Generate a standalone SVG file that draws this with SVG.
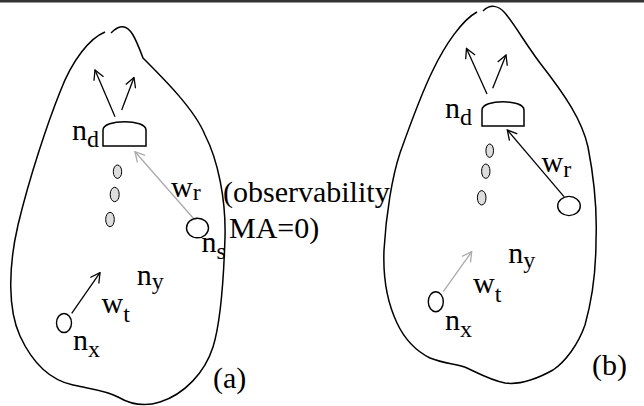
<svg xmlns="http://www.w3.org/2000/svg" width="644" height="406" viewBox="0 0 644 406">
<defs>
<style>
.ol{fill:none;stroke:#000;stroke-width:1.5}
.nd{fill:#fff;stroke:#000;stroke-width:1.5}
.el{fill:#fff;stroke:#000;stroke-width:1.4}
.dot{fill:#ddd;stroke:#000;stroke-width:1}
.ab{fill:none;stroke:#000;stroke-width:1.3}
.ag{fill:none;stroke:#aaa;stroke-width:1.3}
</style>
<marker id="mb" markerUnits="userSpaceOnUse" markerWidth="11" markerHeight="12" viewBox="0 0 11 12" refX="10" refY="6" orient="auto">
<path d="M0.5,0.8 L10,6 L0.5,11.2" fill="none" stroke="#000" stroke-width="1.3"/>
</marker>
<marker id="mg" markerUnits="userSpaceOnUse" markerWidth="11" markerHeight="12" viewBox="0 0 11 12" refX="10" refY="6" orient="auto">
<path d="M0.5,0.8 L10,6 L0.5,11.2" fill="none" stroke="#aaa" stroke-width="1.3"/>
</marker>
</defs>
<rect width="644" height="406" fill="#fff"/>
<line x1="0" y1="1.2" x2="644" y2="1.2" stroke="#333" stroke-width="2.4"/>

<g id="region-a">
<path class="ol" d="M105,32 C90,38 72,60 60,92 C48,122 30,175 18,225 C8,268 8,310 20,336 C32,362 50,380 73,385 C90,389 105,390 118,397 C130,404 145,407 160,402 C185,394 205,372 213,347 C222,318 224,270 225,237 C226,200 218,160 205,135 C195,110 165,80 143,58 C140,50 136,40 133,35 C129,28 124,26 120,27 C116,28 113,31 111,33"/>
<text x="223" y="202" font-family="Liberation Serif, Times New Roman, serif" font-size="30">(observability</text>
<text x="229" y="238" font-family="Liberation Serif, Times New Roman, serif" font-size="30">MA=0)</text>
<text x="213" y="388" font-family="Liberation Serif, Times New Roman, serif" font-size="30">(a)</text>
</g>
<g id="region-b">
<path class="ol" d="M477,12 C462,20 445,45 433,70 C423,90 410,125 400,153 C392,177 386,215 384,250 C383,275 386,300 397,323 C405,340 418,352 430,358 C445,364 458,364 467,368 C478,373 490,380 505,383 C520,385 535,380 553,370 C565,362 578,345 585,325 C592,300 596,270 596,240 C597,215 595,183 588,147 C582,120 565,95 540,63 C525,43 515,25 505,13 C498,5 490,4 483,11"/>
<text x="592" y="375" font-family="Liberation Serif, Times New Roman, serif" font-size="30">(b)</text>
</g>

<g id="nd-a">
<path class="nd" d="M103,146 V130 C103,119 146,119 146,130 V146 Z"/>
<text x="72" y="140" font-family="Liberation Serif, Times New Roman, serif" font-size="30">n<tspan dy="6.5" font-size="24">d</tspan></text>
</g>
<g id="dots-a">
<ellipse class="dot" cx="117.5" cy="171.7" rx="4.2" ry="6.7"/>
<ellipse class="dot" cx="114.7" cy="194.5" rx="4.5" ry="7.2"/>
<ellipse class="dot" cx="110" cy="219.5" rx="4.3" ry="7.2"/>
</g>
<g id="ns-a">
<ellipse class="el" cx="197.5" cy="228" rx="11" ry="9.8"/>
<text x="201.5" y="252" font-family="Liberation Serif, Times New Roman, serif" font-size="30">n<tspan dy="7" font-size="24">s</tspan></text>
</g>
<g id="nx-a">
<ellipse class="el" cx="64" cy="323" rx="7.5" ry="9.5"/>
<text x="73" y="350" font-family="Liberation Serif, Times New Roman, serif" font-size="30">n<tspan dy="6.7" font-size="24">x</tspan></text>
</g>
<g id="ny-a">
<text x="136.7" y="285" font-family="Liberation Serif, Times New Roman, serif" font-size="30">n<tspan dy="4.4" font-size="24">y</tspan></text>
</g>

<g id="nd-b">
<path class="nd" d="M482,126 V110 C482,99 524,99 524,110 V126 Z"/>
<text x="445" y="117.5" font-family="Liberation Serif, Times New Roman, serif" font-size="30">n<tspan dy="7.5" font-size="24">d</tspan></text>
</g>
<g id="dots-b">
<ellipse class="dot" cx="489.7" cy="150.7" rx="3.8" ry="6.7"/>
<ellipse class="dot" cx="485.8" cy="171.2" rx="4.2" ry="7.2"/>
<ellipse class="dot" cx="481.7" cy="197.8" rx="4.3" ry="7.2"/>
</g>
<g id="ns-b">
<ellipse class="el" cx="569" cy="206" rx="11.3" ry="9.6"/>
</g>
<g id="nx-b">
<ellipse class="el" cx="435.8" cy="301.7" rx="7.5" ry="10"/>
<text x="445" y="330" font-family="Liberation Serif, Times New Roman, serif" font-size="30">n<tspan dy="6.7" font-size="24">x</tspan></text>
</g>
<g id="ny-b">
<text x="508.3" y="263.3" font-family="Liberation Serif, Times New Roman, serif" font-size="30">n<tspan dy="4.4" font-size="24">y</tspan></text>
</g>

<g id="connectors">
<line class="ab" x1="115" y1="116.7" x2="95" y2="70" marker-end="url(#mb)"/>
<line class="ab" x1="121.7" y1="110" x2="134" y2="77.5" marker-end="url(#mb)"/>
<line class="ag" x1="193.3" y1="218.3" x2="135" y2="151.7" marker-end="url(#mg)"/>
<text x="171" y="196.7" font-family="Liberation Serif, Times New Roman, serif" font-size="30">w<tspan dy="3.5" font-size="24">r</tspan></text>
<line class="ab" x1="71.7" y1="313.3" x2="100" y2="272.7" marker-end="url(#mb)"/>
<text x="101.5" y="313" font-family="Liberation Serif, Times New Roman, serif" font-size="30">w<tspan dy="8.5" font-size="24">t</tspan></text>
<line class="ab" x1="487" y1="94" x2="466.5" y2="48.5" marker-end="url(#mb)"/>
<line class="ab" x1="492.7" y1="88.3" x2="506" y2="55" marker-end="url(#mb)"/>
<line class="ab" x1="564" y1="196.7" x2="507.3" y2="130" marker-end="url(#mb)"/>
<text x="541.5" y="171.5" font-family="Liberation Serif, Times New Roman, serif" font-size="30">w<tspan dy="5.6" font-size="24">r</tspan></text>
<line class="ag" x1="443.3" y1="291.7" x2="471.7" y2="251.7" marker-end="url(#mg)"/>
<text x="473" y="293.3" font-family="Liberation Serif, Times New Roman, serif" font-size="30">w<tspan dy="8.4" font-size="24">t</tspan></text>
</g>
</svg>
